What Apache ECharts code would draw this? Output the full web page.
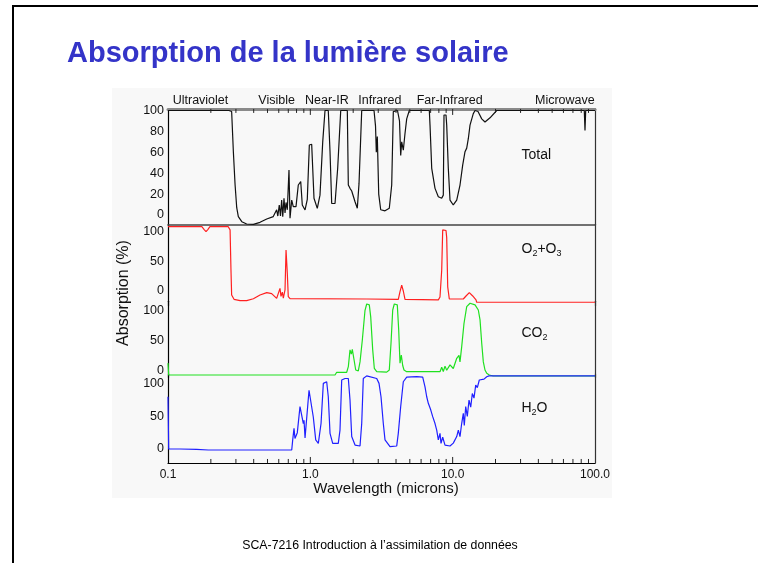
<!DOCTYPE html>
<html><head><meta charset="utf-8">
<script src="https://cdn.jsdelivr.net/npm/echarts@6/dist/echarts.min.js"></script>
<style>html,body{margin:0;padding:0;background:#fff}#c{width:758px;height:563px}</style>
</head><body><div id="c"></div>
<script>
// ---------- data (wavelength in microns, absorption in %) ----------
const totalData = [[0.1,100],[0.268,100],[0.280,99],[0.288,60],[0.296,29],[0.304,7],[0.312,-1.6],[0.330,-6.4],[0.357,-8.6],[0.398,-8.9],[0.443,-7],[0.494,-3.8],[0.549,-1.5],[0.580,5],[0.591,-1],[0.605,9.6],[0.617,-1],[0.629,14.3],[0.640,-1.6],[0.653,16],[0.664,2],[0.675,12],[0.689,5],[0.708,43],[0.720,-3],[0.740,14.3],[0.759,8],[0.793,8],[0.823,28.7],[0.856,32],[0.878,9.6],[0.918,4.8],[0.952,15],[0.984,67],[1.022,67.7],[1.061,16],[1.119,6.4],[1.169,19],[1.222,70],[1.268,100],[1.337,100],[1.375,60.6],[1.413,11],[1.491,11],[1.557,45],[1.635,100],[1.819,100],[1.849,28.7],[1.900,25.5],[1.953,23],[2.061,12.7],[2.138,6.4],[2.198,30],[2.296,100],[2.802,100],[2.871,85],[2.908,60],[2.955,75],[3.023,20],[3.122,5],[3.347,4],[3.587,6.4],[3.730,28.7],[3.828,99],[4.096,100],[4.231,90],[4.314,57],[4.385,70],[4.500,62],[4.625,78],[4.754,92],[4.958,100],[6.855,100],[6.933,86],[7.126,44.7],[7.516,25.5],[7.928,17.5],[8.375,16],[8.594,19],[8.692,95.7],[8.979,95.7],[9.081,86],[9.320,44.7],[9.579,14.3],[10.10,9.6],[10.68,14.3],[11.26,28.7],[11.76,47.8],[12.21,60.6],[12.55,64],[12.88,73],[13.24,86],[13.96,97],[14.36,100],[15.07,99],[16.00,92],[16.87,89],[18.30,93],[20.39,100],[84.10,100],[85.06,81],[86.03,100],[100,100]];

const o2o3Data = [[0.1,108.4],[0.173,108.4],[0.179,104],[0.185,100],[0.191,104],[0.197,108.4],[0.265,108.4],[0.273,103],[0.277,35],[0.280,-6.7],[0.291,-14],[0.321,-16.3],[0.357,-16.3],[0.398,-13],[0.443,-6.7],[0.494,-2.8],[0.535,-4.5],[0.580,-12.4],[0.596,-11],[0.612,4.5],[0.622,-9],[0.636,-2],[0.646,-12],[0.664,2],[0.675,69],[0.682,66],[0.689,30],[0.700,-9.6],[0.720,-13],[2.489,-13.5],[2.501,-15.2],[4.150,-14],[4.266,-1],[4.385,10],[4.500,0],[4.625,-14],[7.928,-15],[8.147,-10],[8.375,35],[8.511,103],[8.736,105],[8.979,102],[9.081,90],[9.230,7],[9.472,-13.5],[11.88,-13.5],[12.41,-8.4],[13.09,-2.8],[13.83,-8.4],[14.59,-15],[14.75,-19],[100,-19]];

const co2Data = [[0.1,12],[0.1011,-7.8],[1.491,-7.8],[1.532,-3.3],[1.801,-3.3],[1.849,6],[1.900,34],[1.941,27],[1.972,35],[2.027,18],[2.084,0.5],[2.173,-1],[2.234,14],[2.318,50],[2.422,100],[2.489,110.5],[2.596,109],[2.656,89],[2.743,34],[2.815,3.3],[2.927,-2.3],[3.440,-3],[3.587,0.5],[3.688,45],[3.791,100.5],[3.890,110.5],[4.083,109],[4.177,67],[4.266,11.7],[4.356,25.5],[4.457,8],[4.551,0.5],[4.754,-2.3],[8.147,-2.3],[8.375,5],[8.594,-2],[8.835,7],[9.081,0],[9.579,9],[10.10,3],[10.68,20],[11.08,25],[11.26,14],[11.57,39],[12.01,78],[12.55,106],[13.24,111.7],[14.36,109],[15.14,100.5],[15.57,84],[16.00,45],[16.42,14],[16.87,0.5],[17.35,-5],[18.09,-7.8],[19.30,-9.5],[100,-9.5]];

const h2oData = [[0.1,80],[0.1011,0],[0.1214,0],[0.1248,-1.5],[0.159,-0.5],[0.192,-1.5],[0.740,-1.5],[0.752,14],[0.768,31.6],[0.780,16],[0.797,14],[0.810,25],[0.846,65],[0.870,66],[0.893,39],[0.903,44],[0.918,17],[0.943,20],[0.979,90],[1.011,90],[1.049,49],[1.091,14],[1.138,8.7],[1.189,39],[1.234,100.5],[1.303,103],[1.337,80],[1.375,24],[1.436,8.7],[1.572,8.7],[1.616,29],[1.661,105.7],[1.752,108],[1.849,108],[1.900,75],[1.953,19],[2.061,6],[2.234,4.6],[2.296,39],[2.356,108],[2.489,112],[2.927,108],[3.038,100.5],[3.137,80],[3.256,39],[3.347,14],[3.629,3.5],[4.045,4.6],[4.150,24],[4.314,65],[4.500,103],[4.754,110],[5.589,110.7],[6.159,110],[6.393,95],[6.571,80],[6.744,70],[7.011,60],[7.241,49.5],[7.516,39],[7.725,29],[7.928,14],[8.147,24],[8.281,8.7],[8.511,18],[8.835,6],[9.579,4.6],[10.10,9],[10.68,19],[10.96,29],[11.26,19],[11.57,39],[11.88,54.6],[12.07,36],[12.35,65],[12.67,50],[13.03,75],[13.39,64],[13.74,85],[14.12,78],[14.52,98],[14.90,94],[15.39,105.7],[16.60,107],[17.35,110.7],[18.00,112],[100,112]];

const totalTicks = [0,20,40,60,80,100];
const gasTicks = [0,50,100];
const logMinorTicks = [0.2,0.3,0.4,0.5,0.6,0.7,0.8,0.9,1,2,3,4,5,6,7,8,9,10,20,30,40,50,60,70,80,90];
const xRange = [0.1, 100];
const regionNames = ['Ultraviolet','Visible','Near-IR','Infrared','Far-Infrared','Microwave'];
const titleText = 'Absorption de la lumière solaire';
const footerText = 'SCA-7216 Introduction à l’assimilation de données';

// ---------- layout ----------
const FONT = '"Liberation Sans", Arial, Helvetica, sans-serif';
const PLOT_LEFT = 168, PLOT_WIDTH = 427;
const panels = [
  {zero:215,   hundred:110.5, min:-9.6,  max:101.5, ticks: totalTicks},
  {zero:291,   hundred:231.7, min:-25,   max:112,   ticks: gasTicks},
  {zero:370.3, hundred:310.3, min:-12,   max:115,   ticks: gasTicks},
  {zero:449,   hundred:383.7, min:-21.4, max:115,   ticks: gasTicks}
];
const grids = panels.map(p => {
  const s = (p.zero - p.hundred) / 100;
  return {left: PLOT_LEFT, width: PLOT_WIDTH, top: p.zero - p.max * s, height: (p.max - p.min) * s,
          containLabel: false, outerBoundsMode: 'none'};
});

function logAxis(gridIndex, extra) {
  return Object.assign({
    type: 'log', logBase: 10, gridIndex, min: xRange[0], max: xRange[1], splitNumber: 3,
    axisLabel: {show: false}, axisTick: {show: false}, splitLine: {show: false}, minorTick: {show: false}
  }, extra);
}
const xAxes = [
  logAxis(0, {position: 'top', axisLine: {show: true, onZero: false, lineStyle: {color: '#8a8a8a', width: 3}}}),
  logAxis(0, {position: 'bottom', axisLine: {show: true, onZero: false, lineStyle: {color: '#444', width: 1.5}}}),
  logAxis(1, {show: false}),
  logAxis(2, {show: false}),
  logAxis(3, {position: 'bottom', axisLine: {show: true, onZero: false, lineStyle: {color: '#000', width: 1.2}},
    axisLabel: {show: true, fontFamily: FONT, fontSize: 12, color: '#111', margin: 6,
                formatter: v => Number(v).toFixed(1)}})
];
const yLeft = panels.map((p, i) => ({
  type: 'value', gridIndex: i, min: p.min, max: p.max, position: 'left',
  axisLine: {show: true, onZero: false, lineStyle: {color: '#000', width: 1.2}},
  axisTick: {show: false}, splitLine: {show: false},
  axisLabel: {show: true, customValues: p.ticks, fontFamily: FONT, fontSize: 12.5, color: '#111', margin: 4}
}));
const yRight = panels.map((p, i) => ({
  type: 'value', gridIndex: i, min: p.min, max: p.max, position: 'right',
  axisLine: {show: true, onZero: false, lineStyle: {color: '#333', width: 1.2}},
  axisTick: {show: false}, splitLine: {show: false}, axisLabel: {show: false}
}));

function lineSeries(data, xi, yi, color) {
  return {type: 'line', data, xAxisIndex: xi, yAxisIndex: yi, symbol: 'none', showSymbol: false,
          lineStyle: {color, width: 1.2}, itemStyle: {color}, silent: true, clip: true};
}
function tickSeries(xi, yi, yVal, dir) {
  return {
    type: 'custom', xAxisIndex: xi, yAxisIndex: yi, silent: true, clip: false, z: 5,
    data: logMinorTicks.map(v => [v, yVal]),
    renderItem: (params, api) => {
      const v = api.value(0);
      const p = api.coord([v, api.value(1)]);
      const lg = Math.log10(v);
      const major = Math.abs(lg - Math.round(lg)) < 1e-9;
      const len = major ? 6 : 4;
      return {type: 'line', shape: {x1: p[0], y1: p[1], x2: p[0], y2: p[1] + dir * len},
              style: {stroke: '#222', lineWidth: 1}};
    }
  };
}

const regionX = [172.7, 258.3, 305, 358.3, 416.7, 535];
const graphics = [
  {type: 'rect', z: -100, shape: {x: 112, y: 88, width: 500, height: 410}, style: {fill: '#f8f8f8'}},
  {type: 'line', shape: {x1: 12, y1: 6, x2: 758, y2: 6}, style: {stroke: '#000', lineWidth: 2}},
  {type: 'line', shape: {x1: 13, y1: 5, x2: 13, y2: 563}, style: {stroke: '#000', lineWidth: 2}},
  {type: 'text', x: 67, y: 53.5, style: {text: titleText, font: 'bold 29px ' + FONT, fill: '#3434c8', align: 'left', verticalAlign: 'middle'}},
  {type: 'text', x: 380, y: 546, style: {text: footerText, font: '12.3px ' + FONT, fill: '#000', align: 'center', verticalAlign: 'middle'}},
  {type: 'text', x: 124, y: 293, rotation: Math.PI / 2, style: {text: 'Absorption (%)', font: '16px ' + FONT, fill: '#111', align: 'center', verticalAlign: 'middle'}},
  {type: 'text', x: 386, y: 489, style: {text: 'Wavelength (microns)', font: '15px ' + FONT, fill: '#111', align: 'center', verticalAlign: 'middle'}}
];
regionNames.forEach((n, i) => graphics.push({type: 'text', x: regionX[i], y: 100.5,
  style: {text: n, font: '12.5px ' + FONT, fill: '#111', align: 'left', verticalAlign: 'middle'}}));
const richStyle = {n: {fontSize: 14, fontFamily: FONT, fill: '#111', color: '#111'},
                   s: {fontSize: 9, fontFamily: FONT, fill: '#111', color: '#111', padding: [10, 0, 0, 0]}};
[
  {t: '{n|Total}', y: 155},
  {t: '{n|O}{s|2}{n|+O}{s|3}', y: 249},
  {t: '{n|CO}{s|2}', y: 333},
  {t: '{n|H}{s|2}{n|O}', y: 408}
].forEach(l => graphics.push({type: 'text', x: 521.5, y: l.y,
  style: {text: l.t, rich: richStyle, fill: '#111', font: '14px ' + FONT, align: 'left', verticalAlign: 'middle'}}));

const chart = echarts.init(document.getElementById('c'), null, {renderer: 'canvas', width: 758, height: 563});
chart.setOption({
  animation: false,
  backgroundColor: '#ffffff',
  grid: grids,
  xAxis: xAxes,
  yAxis: yLeft.concat(yRight),
  series: [
    lineSeries(totalData, 1, 0, '#111111'),
    lineSeries(o2o3Data, 2, 1, '#ff2020'),
    lineSeries(co2Data, 3, 2, '#20e020'),
    lineSeries(h2oData, 4, 3, '#2020ff'),
    tickSeries(4, 3, panels[3].min, -1),
    tickSeries(0, 0, panels[0].max, 1)
  ],
  graphic: graphics
});
</script></body></html>
